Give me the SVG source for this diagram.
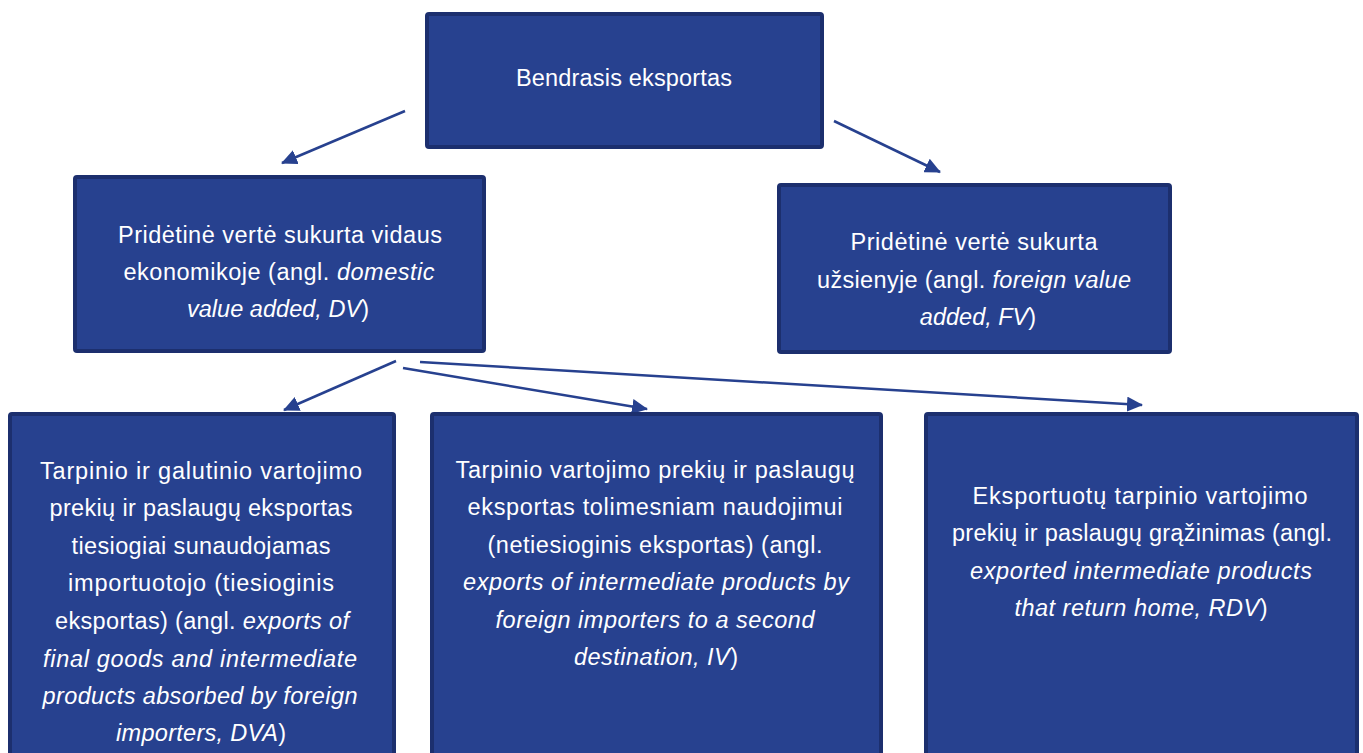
<svg xmlns="http://www.w3.org/2000/svg" width="1363" height="753" viewBox="0 0 1363 753">
<defs>
<style>
.box{fill:#27418F;stroke:#1C2F6E;stroke-width:4}
.t{font-family:"Liberation Sans",Arial,sans-serif;font-size:23.5px;fill:#FFFFFF;text-anchor:middle}
.i{font-style:italic}
</style>
<marker id="ah2" viewBox="0 0 16 15" refX="15" refY="7.5" markerWidth="16" markerHeight="15" markerUnits="userSpaceOnUse" orient="auto">
<path d="M0,0 L16,7.5 L0,15 z" fill="#27418F"/>
</marker>
</defs>
<rect width="1363" height="753" fill="#FFFFFF"/>
<g id="connectors" stroke="#27418F" stroke-width="2.5" marker-end="url(#ah2)">
<line x1="405" y1="111" x2="282" y2="163"/>
<line x1="834" y1="121" x2="940" y2="172"/>
<line x1="396" y1="361" x2="284" y2="410"/>
<line x1="403" y1="368" x2="647" y2="409"/>
<line x1="420" y1="362" x2="1142" y2="405"/>
</g>
<g id="node-total">
<rect class="box" x="427" y="14" width="395" height="133" rx="2"/>
<text class="t" x="624" y="86" textLength="216">Bendrasis eksportas</text>
</g>
<g id="node-dv">
<rect class="box" x="75" y="177" width="409" height="174" rx="2"/>
<text class="t" x="280" y="243" textLength="324">Pridėtinė vertė sukurta vidaus</text>
<text class="t" x="279" y="280" textLength="311">ekonomikoje (angl. <tspan class="i">domestic</tspan></text>
<text class="t" x="278" y="317" textLength="182"><tspan class="i">value added, DV</tspan>)</text>
</g>
<g id="node-fv">
<rect class="box" x="779" y="185" width="391" height="167" rx="2"/>
<text class="t" x="974" y="250" textLength="247">Pridėtinė vertė sukurta</text>
<text class="t" x="974" y="288" textLength="314">užsienyje (angl. <tspan class="i">foreign value</tspan></text>
<text class="t" x="978" y="325"><tspan class="i">added, FV</tspan>)</text>
</g>
<g id="node-dva">
<rect class="box" x="10" y="414" width="384" height="345" rx="2"/>
<text class="t" x="201" y="479" textLength="322">Tarpinio ir galutinio vartojimo</text>
<text class="t" x="201" y="516" textLength="303">prekių ir paslaugų eksportas</text>
<text class="t" x="201" y="554" textLength="259">tiesiogiai sunaudojamas</text>
<text class="t" x="201" y="591" textLength="266">importuotojo (tiesioginis</text>
<text class="t" x="202" y="629" textLength="294">eksportas) (angl. <tspan class="i">exports of</tspan></text>
<text class="t" x="200" y="667" textLength="314"><tspan class="i">final goods and intermediate</tspan></text>
<text class="t" x="200" y="704" textLength="315"><tspan class="i">products absorbed by foreign</tspan></text>
<text class="t" x="201" y="741" textLength="170"><tspan class="i">importers, DVA</tspan>)</text>
</g>
<g id="node-iv">
<rect class="box" x="432" y="414" width="449" height="345" rx="2"/>
<text class="t" x="655" y="478" textLength="399">Tarpinio vartojimo prekių ir paslaugų</text>
<text class="t" x="655" y="515" textLength="375">eksportas tolimesniam naudojimui</text>
<text class="t" x="655" y="553" textLength="335">(netiesioginis eksportas) (angl.</text>
<text class="t" x="656" y="590" textLength="386"><tspan class="i">exports of intermediate products by</tspan></text>
<text class="t" x="655" y="628" textLength="319"><tspan class="i">foreign importers to a second</tspan></text>
<text class="t" x="656" y="665" textLength="164"><tspan class="i">destination, IV</tspan>)</text>
</g>
<g id="node-rdv">
<rect class="box" x="926" y="414" width="431" height="345" rx="2"/>
<text class="t" x="1140" y="504" textLength="335">Eksportuotų tarpinio vartojimo</text>
<text class="t" x="1142" y="541" textLength="380">prekių ir paslaugų grąžinimas (angl.</text>
<text class="t" x="1141" y="579" textLength="342"><tspan class="i">exported intermediate products</tspan></text>
<text class="t" x="1141" y="616" textLength="253"><tspan class="i">that return home, RDV</tspan>)</text>
</g>
</svg>
